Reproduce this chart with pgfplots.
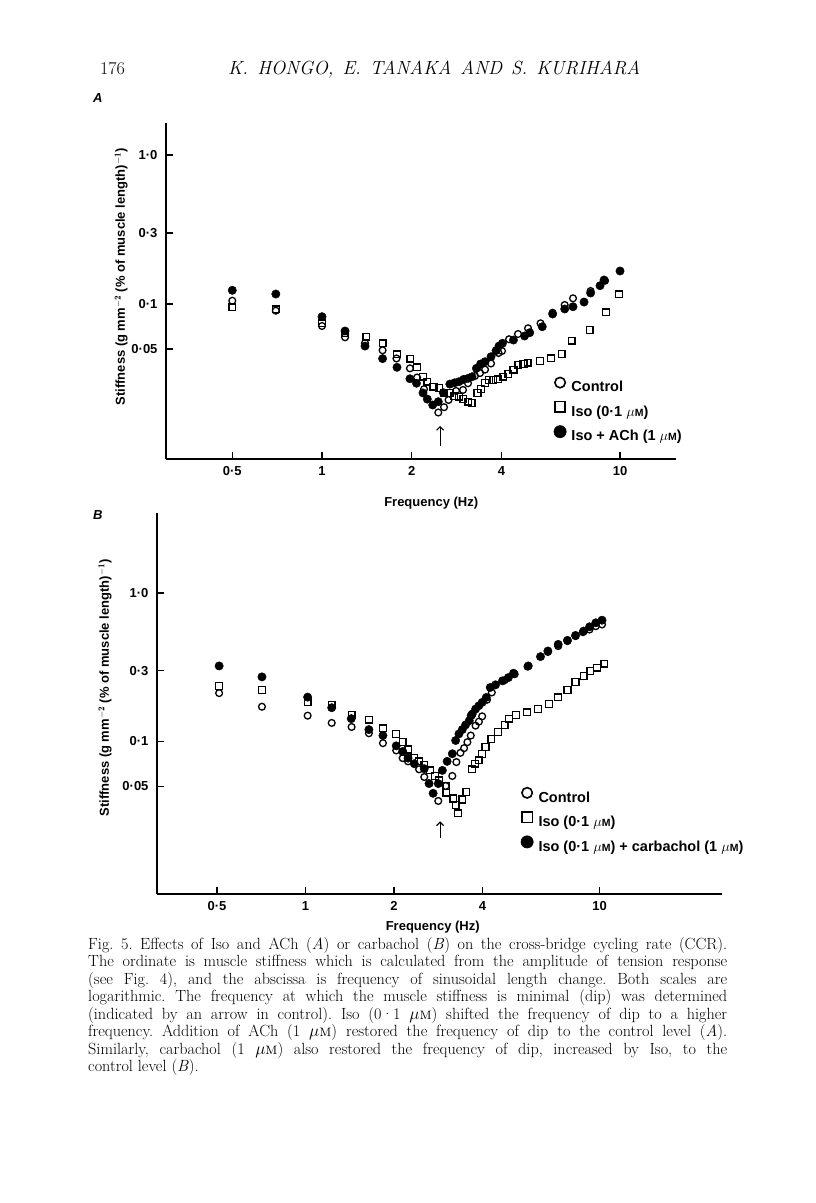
\documentclass[border=0pt]{standalone}
\usepackage{fontspec}
\usepackage{pgfplots}
\pgfplotsset{compat=1.18}
\usetikzlibrary{arrows.meta}
\newfontfamily\figfont{Liberation Sans}
\newcommand{\fuM}{$\mu${\fontsize{10.5}{10.5}\selectfont M}}
\newcommand{\cuM}{$\mu$\textsc{m}}

\begin{document}
\frenchspacing
\begin{tikzpicture}[x=1pt,y=1pt]
\fill[white] (0,0) rectangle (816,-1203);
\path[use as bounding box] (0,0) rectangle (816,-1203);

% header
\node[anchor=base west, inner sep=0] at (100,-74) {\fontsize{18}{18}\selectfont 176};
\node[anchor=base west, inner sep=0] at (228,-74) {\fontsize{19}{19}\selectfont\itshape\makebox[412pt][s]{K. HONGO, E. TANAKA AND S. KURIHARA}};
\node[anchor=base west, inner sep=0] at (93,-102) {\figfont\bfseries\itshape\fontsize{13}{13}\selectfont A};
\node[anchor=base west, inner sep=0] at (93,-519) {\figfont\bfseries\itshape\fontsize{13}{13}\selectfont B};

% ---------------- Panel A ----------------
\begin{axis}[at={(166pt,-459pt)}, anchor=south west,
  scale only axis, width=510pt, height=336pt,
  xmode=log, ymode=log,
  xmin=0.2996, xmax=15.41, ymin=0.009114, ymax=1.6398,
  separate axis lines, axis x line*=bottom, axis y line*=left,
  axis line style={line width=1.3pt},
  tick align=inside, major tick length=7pt,
  xminorticks=false, yminorticks=false,
  tick style={black, line width=1.3pt},
  xtick={0.5,1,2,4,10}, xticklabels={0·5,1,2,4,10},
  ytick={0.05,0.1,0.3,1}, yticklabels={0·05,0·1,0·3,1·0},
  ticklabel style={font=\figfont\bfseries\fontsize{13}{13}\selectfont},
  xticklabel style={yshift=-4pt},
  yticklabel style={xshift=-5pt},
  label style={font=\figfont\bfseries\fontsize{13}{13}\selectfont},
  xlabel={Frequency (Hz)},
  ylabel={Stiffness (g mm$^{\mathbf{-2}}$ (\% of muscle length)$^{\mathbf{-1}}$)},
  xlabel style={at={(axis description cs:0.52,0)}, anchor=center, yshift=-44pt},
  ylabel style={at={(axis description cs:-0.088,0.542)}, anchor=center},
  legend cell align=left,
  legend style={draw=none, fill=none, inner sep=0pt, anchor=north west,
    at={(axis description cs:0.7598,0.2459)},
    font=\figfont\bfseries\fontsize{14.5}{14.5}\selectfont, row sep=6pt,
    nodes={inner sep=0pt, text height=11pt, text depth=3pt},
    /tikz/every odd column/.append style={column sep=5pt}},
]
\addplot[only marks, mark=o, mark size=3.4pt, mark options={line width=1.3pt, black},
  legend image code/.code={\draw[line width=1.6pt] (6pt,5.3pt) circle (5.2pt);}] coordinates {
(0.50,0.1052) (0.70,0.0902) (1.00,0.0712) (1.195,0.0598) (1.394,0.0547)
(1.597,0.0489) (1.778,0.0431) (1.973,0.0370) (2.084,0.0321) (2.199,0.0268)
(2.456,0.0187) (2.567,0.0203) (2.658,0.0227) (2.816,0.0261) (2.973,0.0265)
(3.090,0.0294) (3.261,0.0329) (3.390,0.0344) (3.524,0.0363) (3.691,0.0399)
(3.911,0.0469) (4.018,0.0484) (4.243,0.0580) (4.547,0.0629) (4.913,0.0687)
(5.411,0.0742) (5.940,0.0874) (6.522,0.0985) (6.955,0.1092) (7.967,0.1222)
(8.906,0.1433)
};
\addlegendentry{Control}
\addplot[only marks, mark=square, mark size=3.4pt, mark options={line width=1.3pt, black},
  legend image code/.code={\draw[line width=1.6pt] (0.8pt,0pt) rectangle (11.2pt,10.6pt);}] coordinates {
(0.50,0.0950) (0.70,0.0921) (1.00,0.0742) (1.195,0.0636) (1.408,0.0603)
(1.597,0.0545) (1.785,0.0460) (1.978,0.0430) (2.082,0.0376) (2.179,0.0325)
(2.256,0.0301) (2.367,0.0279) (2.477,0.0274) (2.571,0.0254) (2.677,0.0252)
(2.780,0.0241) (2.885,0.0239) (2.980,0.0230) (3.100,0.0221) (3.177,0.0216)
(3.325,0.0252) (3.413,0.0269) (3.524,0.0294) (3.632,0.0309) (3.760,0.0309)
(3.902,0.0312) (4.062,0.0325) (4.220,0.0339) (4.389,0.0363) (4.557,0.0390)
(4.745,0.0396) (4.897,0.0404) (5.395,0.0416) (5.858,0.0432) (6.368,0.0462)
(6.880,0.0567) (7.906,0.0669) (8.989,0.0880) (9.92,0.1162)
};
\addlegendentry{Iso (0·1 \fuM)}
\addplot[only marks, mark=*, mark size=4.2pt, mark options={fill=black, draw=black},
  legend image code/.code={\fill (6pt,5.3pt) circle (6.2pt);}] coordinates {
(0.50,0.1236) (0.70,0.1167) (1.00,0.0822) (1.195,0.0659) (1.394,0.0522)
(1.597,0.0430) (1.785,0.0376) (1.973,0.0315) (2.075,0.0294) (2.182,0.0253)
(2.256,0.0230) (2.352,0.0210) (2.456,0.0221) (2.553,0.0254) (2.685,0.0290)
(2.786,0.0296) (2.882,0.0301) (2.987,0.0312) (3.090,0.0317) (3.187,0.0325)
(3.297,0.0370) (3.406,0.0396) (3.524,0.0410) (3.691,0.0443) (3.837,0.0486)
(3.926,0.0522) (4.031,0.0545) (4.389,0.0573) (4.782,0.0610) (4.977,0.0642)
(5.483,0.0704) (5.940,0.0857) (6.522,0.0926) (6.955,0.0959) (7.573,0.1031)
(7.967,0.1185) (8.568,0.1327) (8.838,0.1449) (10.0,0.1665)
};
\addlegendentry{Iso + ACh (1 \fuM)}
\draw[line width=1.1pt, -{Straight Barb[length=3.5pt,width=7pt]}] (axis cs:2.49,0.0111) -- (axis cs:2.49,0.0152);
\end{axis}

% ---------------- Panel B ----------------
\begin{axis}[at={(157pt,-894pt)}, anchor=south west,
  scale only axis, width=565pt, height=381pt,
  xmode=log, ymode=log,
  xmin=0.3126, xmax=26.1, ymin=0.009399, ymax=3.457,
  separate axis lines, axis x line*=bottom, axis y line*=left,
  axis line style={line width=1.3pt},
  tick align=inside, major tick length=7pt,
  xminorticks=false, yminorticks=false,
  tick style={black, line width=1.3pt},
  xtick={0.5,1,2,4,10}, xticklabels={0·5,1,2,4,10},
  ytick={0.05,0.1,0.3,1}, yticklabels={0·05,0·1,0·3,1·0},
  ticklabel style={font=\figfont\bfseries\fontsize{13}{13}\selectfont},
  xticklabel style={yshift=-4pt},
  yticklabel style={xshift=-5pt},
  label style={font=\figfont\bfseries\fontsize{13}{13}\selectfont},
  xlabel={Frequency (Hz)},
  ylabel={Stiffness (g mm$^{\mathbf{-2}}$ (\% of muscle length)$^{\mathbf{-1}}$)},
  xlabel style={at={(axis description cs:0.488,0)}, anchor=center, yshift=-33pt},
  ylabel style={at={(axis description cs:-0.092,0.541)}, anchor=center},
  legend cell align=left,
  legend style={draw=none, fill=none, inner sep=0pt, anchor=north west,
    at={(axis description cs:0.6434,0.2819)},
    font=\figfont\bfseries\fontsize{14.5}{14.5}\selectfont, row sep=6pt,
    nodes={inner sep=0pt, text height=11pt, text depth=3pt},
    /tikz/every odd column/.append style={column sep=5pt}},
]
\addplot[only marks, mark=o, mark size=3.4pt, mark options={line width=1.3pt, black},
  legend image code/.code={\draw[line width=1.6pt] (6pt,5.3pt) circle (5.2pt);}] coordinates {
(0.5085,0.2118) (0.7112,0.1715) (1.017,0.1493) (1.228,0.1334) (1.435,0.1253)
(1.643,0.1137) (1.834,0.0975) (2.035,0.0871) (2.141,0.0773) (2.233,0.0735)
(2.434,0.0650) (2.535,0.0577) (2.829,0.0398) (2.998,0.0502) (3.158,0.0586)
(3.260,0.0727) (3.365,0.0839) (3.463,0.0902) (3.554,0.0990) (3.649,0.1097)
(3.789,0.1279) (3.888,0.1361) (3.990,0.1478) (4.144,0.1911) (4.302,0.2140)
(4.759,0.2588) (5.146,0.2840) (5.692,0.3195) (6.675,0.401) (7.236,0.439)
(7.781,0.475) (8.288,0.513) (8.78,0.545) (9.25,0.568) (9.716,0.598)
(10.20,0.614)
};
\addlegendentry{Control}
\addplot[only marks, mark=square, mark size=3.4pt, mark options={line width=1.3pt, black},
  legend image code/.code={\draw[line width=1.6pt] (0.8pt,0pt) rectangle (11.2pt,10.6pt);}] coordinates {
(0.5085,0.2371) (0.7112,0.2229) (1.017,0.1834) (1.228,0.1760) (1.435,0.1509)
(1.643,0.1404) (1.834,0.1228) (2.035,0.1125) (2.141,0.0990) (2.239,0.0884)
(2.345,0.0773) (2.434,0.0735) (2.535,0.0698) (2.647,0.0639) (2.757,0.0586)
(2.846,0.0548) (3.015,0.0502) (3.015,0.0453) (3.185,0.0413) (3.241,0.0373)
(3.307,0.0328) (3.414,0.0407) (3.524,0.0458) (3.691,0.0650) (3.77,0.0709)
(3.88,0.0746) (3.99,0.0827) (4.096,0.0917) (4.290,0.1042) (4.519,0.1155)
(4.759,0.1293) (4.927,0.1426) (5.191,0.1509) (5.659,0.1572) (6.171,0.1655)
(6.733,0.1788) (7.236,0.1981) (7.781,0.2229) (8.288,0.2522) (8.831,0.2767)
(9.303,0.2988) (9.800,0.3146) (10.38,0.3346)
};
\addlegendentry{Iso (0·1 \fuM)}
\addplot[only marks, mark=*, mark size=4.2pt, mark options={fill=black, draw=black},
  legend image code/.code={\fill (6pt,5.3pt) circle (6.2pt);}] coordinates {
(0.5085,0.3228) (0.7112,0.2724) (1.017,0.1991) (1.228,0.1689) (1.431,0.1426)
(1.643,0.1203) (1.834,0.1097) (2.035,0.0935) (2.141,0.0857) (2.233,0.0773)
(2.345,0.0709) (2.535,0.0656) (2.632,0.0521) (2.717,0.0448) (2.829,0.0521)
(2.921,0.0639) (3.032,0.0735) (3.158,0.0827) (3.241,0.1016) (3.326,0.1125)
(3.414,0.1203) (3.503,0.1293) (3.607,0.1382) (3.66,0.1493) (3.69,0.1530)
(3.79,0.1655) (3.888,0.1742) (3.990,0.1834) (4.12,0.1981) (4.25,0.2311)
(4.43,0.2408) (4.677,0.2562) (4.90,0.2696) (5.10,0.2884) (5.725,0.3228)
(6.30,0.373) (6.675,0.407) (7.236,0.451) (7.781,0.480) (8.288,0.518)
(8.831,0.554) (9.25,0.592) (9.716,0.630) (10.20,0.656)
};
\addlegendentry{Iso (0·1 \fuM) + carbachol (1 \fuM)}
\draw[line width=1.1pt, -{Straight Barb[length=3.5pt,width=7pt]}] (axis cs:2.87,0.0224) -- (axis cs:2.87,0.0290);
\end{axis}

% caption
\begin{scope}[every node/.style={anchor=base west, inner sep=0pt, font=\fontsize{16.2}{17.5}\selectfont}]
\node at (88,-949) {\makebox[639pt][s]{Fig. 5. Effects of Iso and ACh (\textit{A}) or carbachol (\textit{B}) on the cross-bridge cycling rate (CCR).}};
\node at (88,-966.5) {\makebox[639pt][s]{The ordinate is muscle stiffness which is calculated from the amplitude of tension response}};
\node at (88,-984) {\makebox[639pt][s]{(see Fig. 4), and the abscissa is frequency of sinusoidal length change. Both scales are}};
\node at (88,-1001.5) {\makebox[639pt][s]{logarithmic. The frequency at which the muscle stiffness is minimal (dip) was determined}};
\node at (88,-1019) {\makebox[639pt][s]{(indicated by an arrow in control). Iso (0·1 \cuM) shifted the frequency of dip to a higher}};
\node at (88,-1036.5) {\makebox[639pt][s]{frequency. Addition of ACh (1 \cuM) restored the frequency of dip to the control level (\textit{A}).}};
\node at (88,-1054) {\makebox[639pt][s]{Similarly, carbachol (1 \cuM) also restored the frequency of dip, increased by Iso, to the}};
\node at (88,-1071.5) {\makebox[639pt][l]{control level (\textit{B}).}};
\end{scope}
\end{tikzpicture}
\end{document}
